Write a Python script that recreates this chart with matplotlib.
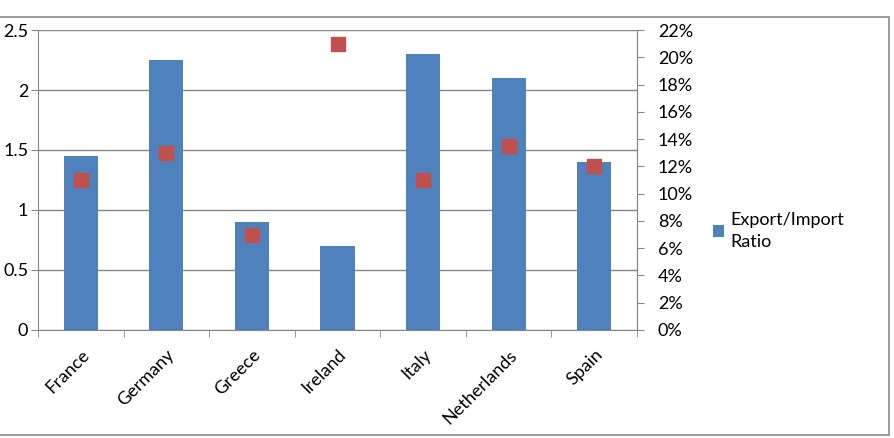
import numpy as np
import matplotlib.pyplot as plt
from matplotlib.patches import Rectangle
from matplotlib.ticker import FuncFormatter

plt.rcParams['font.family'] = ['Lato', 'DejaVu Sans']

countries = ["France", "Germany", "Greece", "Ireland", "Italy", "Netherlands", "Spain"]
export_import_ratio = [1.45, 2.25, 0.9, 0.7, 2.3, 2.1, 1.4]
share_pct = [11.0, 13.0, 7.0, 21.0, 11.0, 13.5, 12.0]

bar_col = "#4F81BD"
dot_col = "#C0504D"
axis_col = "#878787"
fs = 13

fig = plt.figure(figsize=(8.95, 4.38), dpi=100)
ax = fig.add_axes([0.0425, 0.2466, 0.6692, 0.6849])

x = np.arange(len(countries))
ax.bar(x, export_import_ratio, width=0.4, color=bar_col, label="Export/Import\nRatio", zorder=3)
ax.set_xlim(-0.5, len(countries) - 0.5)
ax.set_ylim(0, 2.5)
ax.set_yticks([0, 0.5, 1, 1.5, 2, 2.5])
ax.set_yticklabels(["0", "0.5", "1", "1.5", "2", "2.5"])
ax.grid(axis="y", color=axis_col, linewidth=1, zorder=0)

ax.set_xticks(x)
ax.set_xticklabels(countries, rotation=45, ha="right", rotation_mode="anchor")
ax.set_xticks(np.arange(-0.5, len(countries)), minor=True)
ax.tick_params(axis="x", which="major", length=0, pad=12, labelsize=fs)
ax.tick_params(axis="x", which="minor", length=5, color=axis_col)
ax.tick_params(axis="y", length=5, color=axis_col, labelsize=fs, pad=2)

for s in ["left", "bottom", "right"]:
    ax.spines[s].set_color(axis_col)
ax.spines["top"].set_visible(False)

ax2 = ax.twinx()
ax2.plot(x, share_pct, linestyle="none", marker="s", markersize=10.5, color=dot_col, zorder=4)
ax2.set_ylim(0, 22)
ax2.set_yticks(np.arange(0, 23, 2))
ax2.yaxis.set_major_formatter(FuncFormatter(lambda v, p: f"{int(v)}%"))
ax2.tick_params(axis="y", length=5, color=axis_col, labelsize=fs, pad=10)
for s in ["left", "bottom", "top"]:
    ax2.spines[s].set_visible(False)
ax2.spines["right"].set_color(axis_col)

leg = ax.legend(loc="center left", bbox_to_anchor=(1.115, 0.33), frameon=False,
                fontsize=fs, handlelength=0.6, handleheight=0.6, handletextpad=0.35,
                borderaxespad=0)
leg.get_texts()[0].set_linespacing(1.5)

fig.patches.append(Rectangle((-0.01, 0.007), 1.003, 0.954, transform=fig.transFigure,
                             fill=False, edgecolor="#8c8c8c", linewidth=1.2))

fig.savefig("out.png", dpi=100)
